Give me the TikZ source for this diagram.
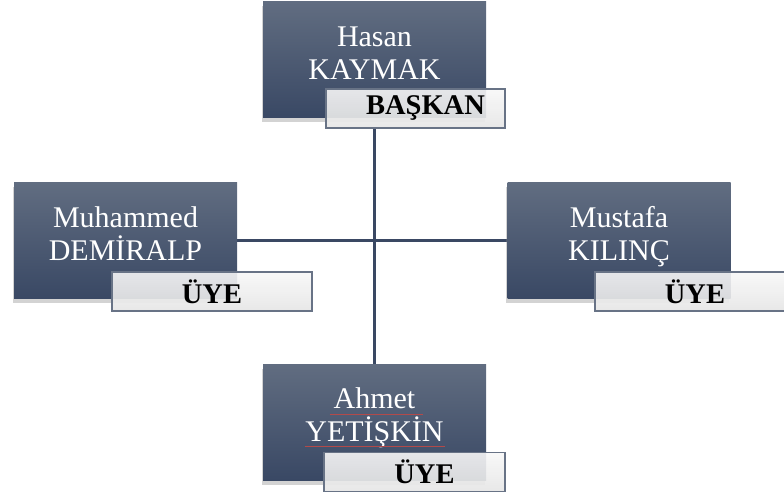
\documentclass[tikz,border=0pt]{standalone}
\usepackage{fontspec}
\setmainfont{Liberation Serif}
\usetikzlibrary{shadows,backgrounds,calc}

\definecolor{boxtop}{RGB}{97,109,129}
\definecolor{boxbot}{RGB}{57,72,100}
\definecolor{linecol}{RGB}{58,72,99}
\definecolor{tagedge}{RGB}{104,115,134}
\definecolor{spellred}{RGB}{178,74,74}

\begin{document}
\begin{tikzpicture}[x=1pt,y=-1pt,
    person/.style={minimum width=223pt,minimum height=116pt,inner sep=0pt,
      top color=boxtop,bottom color=boxbot,
      drop shadow={shadow xshift=-1.5pt,shadow yshift=-4.5pt,opacity=.35}},
    pname/.style={text=white,align=center,inner sep=0pt,text depth=0pt,
      font=\fontsize{30}{33}\selectfont},
    tag/.style={minimum height=39pt,inner sep=0pt,draw=tagedge,line width=1.4pt,
      top color=gray!6,bottom color=gray!20,fill opacity=.9,text opacity=1,
      font=\bfseries\fontsize{28.5}{30}\selectfont},
    link/.style={draw=linecol,line width=2.5pt},
    spell/.style={draw=spellred,line width=1.1pt}]
  \useasboundingbox (0,0) rectangle (784,497);

  % baskan
  \node[person] (hasan) at (374.5,60) {};
  \node[pname] (hasantext) at ([yshift=7pt]hasan.center) {Hasan\\KAYMAK};
  \node[tag,minimum width=179pt] (baskan) at (415.5,108.5) {\hspace*{20pt}BAŞKAN};

  % uyeler
  \node[person] (muhammed) at (125.5,240.5) {};
  \node[pname] (muhammedtext) at ([yshift=7pt]muhammed.center) {Muhammed\\DEMİRALP};
  \node[tag,minimum width=200pt] (uye1) at (212,291.5) {ÜYE};

  \node[person] (mustafa) at (619,240.5) {};
  \node[pname] (mustafatext) at ([yshift=7pt]mustafa.center) {Mustafa\\KILINÇ};
  \node[tag,minimum width=200pt] (uye2) at (695,291.5) {ÜYE};

  \node[person] (ahmet) at (374.5,422) {};
  \node[pname] (ahmettext) at ([yshift=7pt]ahmet.center) {Ahmet\\YETİŞKİN};
  \node[tag,minimum width=181pt] (uye3) at (414.5,472) {\hspace*{20pt}ÜYE};
  \draw[spell] ([xshift=-45pt,yshift=28pt]ahmettext.south) -- ([xshift=48pt,yshift=28pt]ahmettext.south);
  \draw[spell] ([xshift=-70pt,yshift=-4pt]ahmettext.south) -- ([xshift=70pt,yshift=-4pt]ahmettext.south);

  \begin{pgfonlayer}{background}
    \draw[link] (hasan.center |- baskan.south) -- (ahmet.north);
    \draw[link] (muhammed.east) -- (mustafa.west);
  \end{pgfonlayer}
\end{tikzpicture}
\end{document}
